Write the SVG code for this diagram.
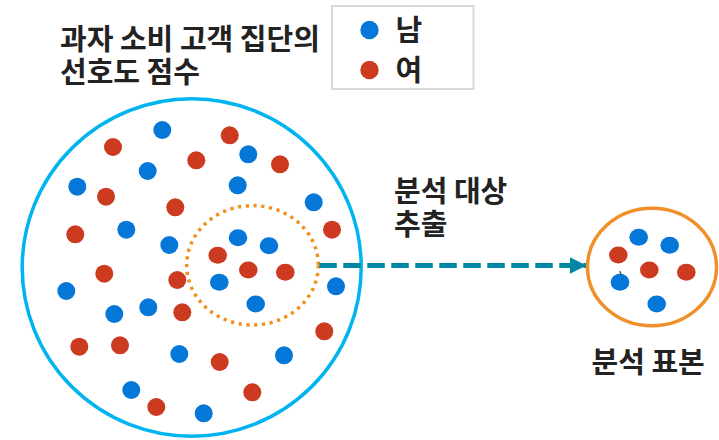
<svg xmlns="http://www.w3.org/2000/svg" width="719" height="440" viewBox="0 0 719 440">
<defs>
<style>
.t{font-family:"Noto Sans CJK KR","Noto Sans",sans-serif;font-weight:700;font-size:29px;fill:#222}
.b{fill:#0577D8}
.r{fill:#CC3A20}
</style>
<marker id="ah" viewBox="0 0 10 10" refX="10" refY="5" markerWidth="3.4" markerHeight="3.4" markerUnits="strokeWidth" orient="auto">
<path d="M0,0 L10,5 L0,10 Z" fill="#0088A3"/>
</marker>
</defs>
<rect width="719" height="440" fill="#fff"/>

<g id="title">
<text class="t" x="60" y="50">과자 소비 고객 집단의</text>
<text class="t" x="60" y="83">선호도 점수</text>
</g>

<g id="legend">
<rect x="332" y="6" width="141.5" height="83" fill="#fff" stroke="#D9D9D9" stroke-width="2"/>
<circle class="b" cx="369.5" cy="30" r="9.2"/>
<circle class="r" cx="369.5" cy="70" r="9.2"/>
<text class="t" x="395.5" y="41">남</text>
<text class="t" x="395.5" y="81">여</text>
</g>

<g id="population">
<ellipse cx="191.7" cy="267.5" rx="169.5" ry="168.8" fill="#fff" stroke="#00B4F0" stroke-width="3.5"/>
<g>
<circle class="b" cx="162.3" cy="130" r="9"/>
<circle class="b" cx="248.3" cy="154.3" r="9"/>
<circle class="b" cx="147.7" cy="171" r="9"/>
<circle class="b" cx="77.3" cy="186.7" r="9"/>
<circle class="b" cx="237.7" cy="185.3" r="9"/>
<circle class="b" cx="313.7" cy="202.3" r="9"/>
<circle class="b" cx="126.3" cy="229.7" r="9"/>
<circle class="b" cx="169.3" cy="245" r="9"/>
<circle class="b" cx="336" cy="286.3" r="9"/>
<circle class="b" cx="66.3" cy="291" r="9"/>
<circle class="b" cx="114.3" cy="314" r="9"/>
<circle class="b" cx="148.3" cy="307.3" r="9"/>
<circle class="b" cx="179.3" cy="354" r="9"/>
<circle class="b" cx="284" cy="355.3" r="9"/>
<circle class="b" cx="131.3" cy="390" r="9"/>
<circle class="b" cx="203.7" cy="413.3" r="9"/>
<circle class="r" cx="113" cy="147" r="9"/>
<circle class="r" cx="229.7" cy="135.3" r="9"/>
<circle class="r" cx="196.3" cy="160.3" r="9"/>
<circle class="r" cx="280" cy="164.3" r="9"/>
<circle class="r" cx="106" cy="196.7" r="9"/>
<circle class="r" cx="175.3" cy="207.3" r="9"/>
<circle class="r" cx="75.3" cy="234.3" r="9"/>
<circle class="r" cx="332" cy="229.7" r="9"/>
<circle class="r" cx="104.3" cy="273.7" r="9"/>
<circle class="r" cx="177.3" cy="280" r="9"/>
<circle class="r" cx="182.3" cy="312.3" r="9"/>
<circle class="r" cx="79.3" cy="346.7" r="9"/>
<circle class="r" cx="120" cy="345.3" r="9"/>
<circle class="r" cx="219.7" cy="362" r="9"/>
<circle class="r" cx="324.3" cy="331.3" r="9"/>
<circle class="r" cx="252.3" cy="392.3" r="9"/>
<circle class="r" cx="156.3" cy="407" r="9"/>
</g>
</g>

<g id="selection">
<ellipse cx="252.5" cy="265.3" rx="65.8" ry="59.7" fill="none" stroke="#F0901E" stroke-width="3.5" stroke-dasharray="3.2 4.6"/>
<ellipse class="b" cx="238" cy="237.7" rx="9.3" ry="8.5"/>
<ellipse class="b" cx="269" cy="245.7" rx="9.3" ry="8.5"/>
<ellipse class="b" cx="219.3" cy="282.3" rx="9.3" ry="8.5"/>
<ellipse class="b" cx="255.7" cy="304" rx="9.3" ry="8.5"/>
<ellipse class="r" cx="217.7" cy="255.3" rx="9.3" ry="8.5"/>
<ellipse class="r" cx="248.3" cy="270" rx="9.3" ry="8.5"/>
<ellipse class="r" cx="285.3" cy="272.3" rx="9.3" ry="8.5"/>
</g>

<g id="connectors">
<line x1="319.3" y1="265.5" x2="586.5" y2="265.5" stroke="#0088A3" stroke-width="5" stroke-dasharray="17.5 6.5" marker-end="url(#ah)"/>
</g>

<g id="extract-label">
<text class="t" x="394" y="202">분석 대상</text>
<text class="t" x="394" y="235">추출</text>
</g>

<g id="sample">
<ellipse cx="652" cy="267" rx="64.5" ry="58.8" fill="#fff" stroke="#F0902A" stroke-width="3.5"/>
<ellipse class="b" cx="638.7" cy="237.3" rx="9.3" ry="8.5"/>
<ellipse class="b" cx="669.7" cy="245.3" rx="9.3" ry="8.5"/>
<ellipse class="b" cx="620" cy="282.3" rx="9.3" ry="8.5"/>
<ellipse class="b" cx="656.7" cy="304" rx="9.3" ry="8.5"/>
<ellipse class="r" cx="618.3" cy="255" rx="9.3" ry="8.5"/>
<ellipse class="r" cx="649.3" cy="270" rx="9.3" ry="8.5"/>
<ellipse class="r" cx="686.3" cy="272.3" rx="9.3" ry="8.5"/>
<line x1="619.6" y1="271" x2="621.4" y2="275" stroke="#404040" stroke-width="1.2"/>
<text class="t" x="591.5" y="373">분석 표본</text>
</g>
</svg>
